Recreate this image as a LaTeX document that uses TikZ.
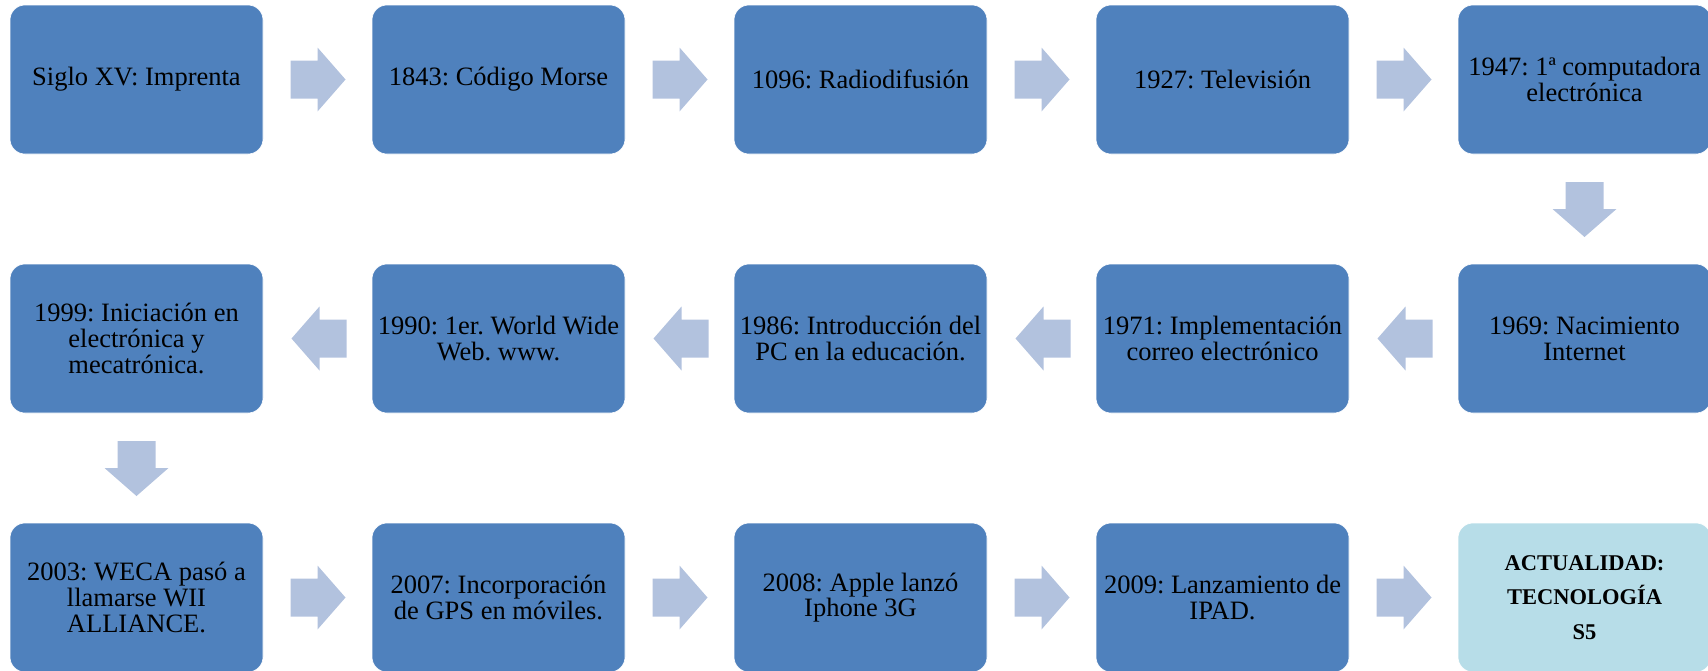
\documentclass[tikz,border=0pt]{standalone}
\usepackage{fontspec}
\setmainfont{Liberation Serif}
\usetikzlibrary{calc}
\definecolor{boxblue}{HTML}{4F81BD}
\definecolor{arrowblue}{HTML}{B2C2DE}
\definecolor{lastbox}{HTML}{B7DDE8}
\frenchspacing
\begin{document}
\begin{tikzpicture}[x=1pt,y=-1pt,
  stepbox/.style={rectangle, rounded corners=15pt, fill=boxblue, draw=white, line width=0.6pt,
    minimum width=253pt, minimum height=149pt, inner sep=0pt, align=center,
    font=\frenchspacing\fontsize{26.5}{25.8}\selectfont, text=black},
  finalbox/.style={stepbox, fill=lastbox, font=\frenchspacing\bfseries\fontsize{22.5}{34.5}\selectfont},
  blockarrow/.pic={\fill[arrowblue] (-27,-19) -- (0,-19) -- (0,-32) -- (28,0) -- (0,32) -- (0,19) -- (-27,19) -- cycle;}
]
\useasboundingbox (0,0) rectangle (1708,670);
% row 1
\node[stepbox] (a1) at (136.5,79.5) {Siglo XV: Imprenta};
\node[stepbox] (a2) at (498.5,79.5) {1843: Código Morse};
\node[stepbox] (a3) at (860.5,79.5) {1096: Radiodifusión};
\node[stepbox] (a4) at (1222.5,79.5) {1927: Televisión};
\node[stepbox] (a5) at (1584.5,79.5) {1947: 1ª computadora\\electrónica};
% row 2
\node[stepbox] (b5) at (1584.5,338.5) {1969: Nacimiento\\Internet};
\node[stepbox] (b4) at (1222.5,338.5) {1971: Implementación\\correo electrónico};
\node[stepbox] (b3) at (860.5,338.5) {1986: Introducción del\\PC en la educación.};
\node[stepbox] (b2) at (498.5,338.5) {1990: 1er. World Wide\\Web. www.};
\node[stepbox] (b1) at (136.5,338.5) {1999: Iniciación en\\electrónica y\\mecatrónica.};
% row 3
\node[stepbox] (c1) at (136.5,597.5) {2003: WECA pasó a\\llamarse WII\\ALLIANCE.};
\node[stepbox] (c2) at (498.5,597.5) {2007: Incorporación\\de GPS en móviles.};
\node[stepbox] (c3) at (860.5,597.5) {2008: Apple lanzó\\Iphone 3G};
\node[stepbox] (c4) at (1222.5,597.5) {2009: Lanzamiento de\\IPAD.};
\node[finalbox] (c5) at (1584.5,597.5) {ACTUALIDAD:\\TECNOLOGÍA\\S5};
% connectors
\pic at ($(a1.east)!0.5!(a2.west)$) {blockarrow};
\pic at ($(a2.east)!0.5!(a3.west)$) {blockarrow};
\pic at ($(a3.east)!0.5!(a4.west)$) {blockarrow};
\pic at ($(a4.east)!0.5!(a5.west)$) {blockarrow};
\pic[rotate=-90] at ($(a5.south)!0.5!(b5.north)$) {blockarrow};
\pic[rotate=180] at ($(b5.west)!0.5!(b4.east)+(2,0)$) {blockarrow};
\pic[rotate=180] at ($(b4.west)!0.5!(b3.east)+(2,0)$) {blockarrow};
\pic[rotate=180] at ($(b3.west)!0.5!(b2.east)+(2,0)$) {blockarrow};
\pic[rotate=180] at ($(b2.west)!0.5!(b1.east)+(2,0)$) {blockarrow};
\pic[rotate=-90] at ($(b1.south)!0.5!(c1.north)$) {blockarrow};
\pic at ($(c1.east)!0.5!(c2.west)$) {blockarrow};
\pic at ($(c2.east)!0.5!(c3.west)$) {blockarrow};
\pic at ($(c3.east)!0.5!(c4.west)$) {blockarrow};
\pic at ($(c4.east)!0.5!(c5.west)$) {blockarrow};
\end{tikzpicture}
\end{document}
